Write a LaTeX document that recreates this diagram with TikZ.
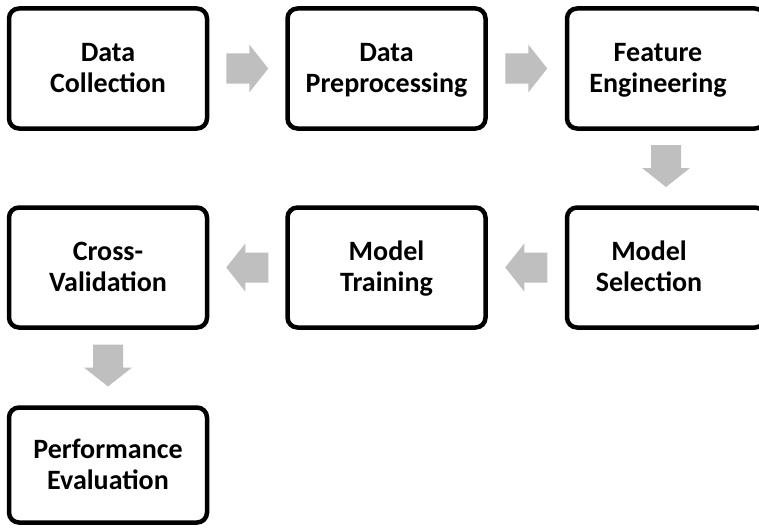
\documentclass[tikz,border=0pt]{standalone}
\usepackage{fontspec}
\setmainfont{Carlito}
\usetikzlibrary{calc}
\definecolor{arrowgray}{RGB}{191,191,191}
\tikzset{
  stepbox/.style={draw=black, line width=4.5pt, rounded corners=10pt,
    minimum width=198pt, minimum height=120pt, inner sep=0pt, fill=white},
  steptext/.style={align=center, inner sep=0pt, yshift=-2.5pt,
    font=\fontsize{28}{31}\selectfont\bfseries},
  blockarrow/.pic={
    \fill[arrowgray] (-21,-15) -- (2,-15) -- (2,-24) -- (21,0)
      -- (2,24) -- (2,15) -- (-21,15) -- cycle;
  }
}
\begin{document}
\begin{tikzpicture}[x=1pt, y=-1pt]
  \useasboundingbox (0,0) rectangle (759,527);
  \clip (0,0) rectangle (759,527);

  % process steps
  \node[stepbox] (b1) at (108,68.5) {};
  \node[stepbox] (b2) at (386.5,68.5) {};
  \node[stepbox] (b3) at (666,68.5) {};
  \node[stepbox] (b6) at (666,267.5) {};
  \node[stepbox] (b5) at (386.5,267.5) {};
  \node[stepbox] (b4) at (108,267.5) {};
  \node[stepbox, minimum height=115pt] (b7) at (108,465) {};

  % step labels
  \node[steptext] (t1) at (b1) {\strut Data\\\strut Collection};
  \node[steptext] (t2) at (b2) {\strut Data\\\strut Preprocessing};
  \node[steptext, xshift=-8pt] (t3) at (b3) {\strut Feature\\\strut Engineering};
  \node[steptext, xshift=-17pt] (t6) at (b6) {\strut Model\\\strut Selection};
  \node[steptext] (t5) at (b5) {\strut Model\\\strut Training};
  \node[steptext] (t4) at (b4) {\strut Cross-\\\strut Validation};
  \node[steptext] (t7) at (b7) {\strut Performance\\\strut Evaluation};

  % block arrows between steps
  \pic at ($(b1.east)!0.5!(b2.west)$) {blockarrow};
  \pic at ($(b2.east)!0.5!(b3.west)$) {blockarrow};
  \pic[rotate=-90] at ($(b3.south)!0.5!(b6.north)+(0,-2)$) {blockarrow};
  \pic[rotate=180] at ($(b6.west)!0.5!(b5.east)$) {blockarrow};
  \pic[rotate=180] at ($(b5.west)!0.5!(b4.east)$) {blockarrow};
  \pic[rotate=-90] at ($(b4.south)!0.5!(b7.north)+(0,-2)$) {blockarrow};
\end{tikzpicture}
\end{document}
